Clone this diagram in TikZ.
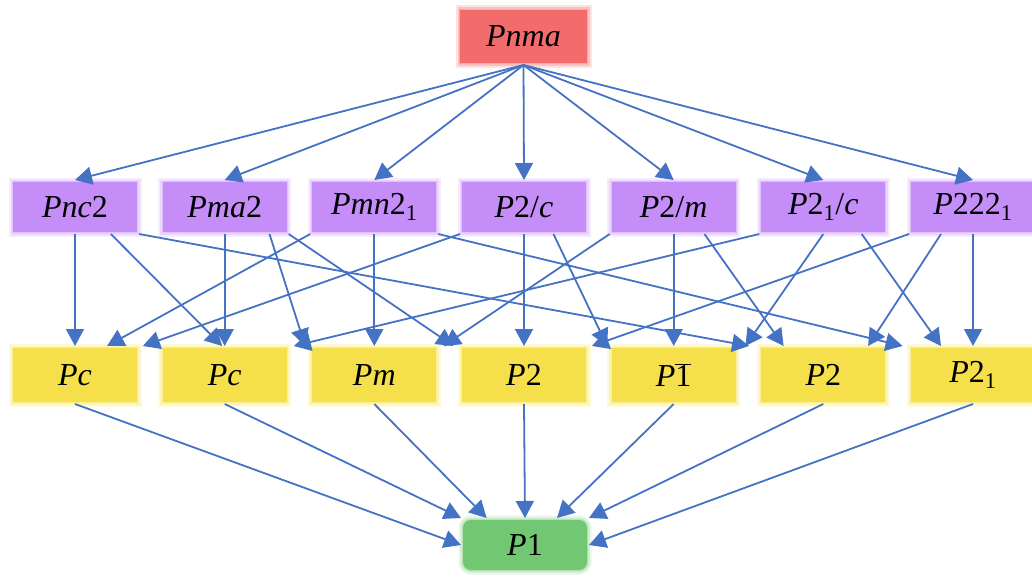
\documentclass[tikz,border=0pt]{standalone}
\usepackage{fontspec}
\setmainfont{Liberation Serif}
\usetikzlibrary{arrows.meta,calc}
\definecolor{arrcol}{HTML}{4472C4}
\definecolor{redfill}{HTML}{F26C6C}
\definecolor{redglow}{HTML}{F7A0A0}
\definecolor{purfill}{HTML}{C48DF7}
\definecolor{purglow}{HTML}{DDBDFA}
\definecolor{yelfill}{HTML}{F5E04B}
\definecolor{yelglow}{HTML}{FAEC90}
\definecolor{grnfill}{HTML}{72C772}
\definecolor{grnglow}{HTML}{B2E0B2}
\newcommand\edgeBT[4]{\draw[arr] ($(#1.south west)!#2!(#1.south east)$) -- ($(#3.north west)!#4!(#3.north east)$);}
\begin{document}
\begin{tikzpicture}[x=1pt,y=1pt,
  box/.style={minimum width=124pt, minimum height=50pt, inner sep=0pt, outer sep=2pt,
     font=\fontsize{32}{38}\selectfont},
  glowing/.style={preaction={draw=#1, line width=9pt, draw opacity=0.3},
     preaction={draw=#1, line width=5pt, draw opacity=0.5},
     preaction={draw=#1, line width=2pt, draw opacity=0.8}},
  redbox/.style={box, fill=redfill, glowing=redglow, minimum width=127pt, minimum height=53pt},
  purbox/.style={box, fill=purfill, glowing=purglow},
  yelbox/.style={box, fill=yelfill, glowing=yelglow, minimum height=54pt},
  grnbox/.style={box, fill=grnfill, glowing=grnglow, rounded corners=8pt},
  arr/.style={draw=arrcol, line width=1.8pt, -{Triangle[length=17pt,width=18pt]}, shorten >=0pt}
]
\useasboundingbox (0,0) rectangle (1032,-578);
% top
\node[redbox] (pnma) at (523.5,-36.5) {\textit{Pnma}};
% row 2
\node[purbox] (pnc)  at (75,-207)    {\textit{Pnc}2};
\node[purbox] (pma)  at (224.7,-207) {\textit{Pma}2};
\node[purbox] (pmn)  at (374.3,-207) {\textit{Pmn}2\textsubscript{1}};
\node[purbox] (ptc)  at (524,-207)   {\textit{P}2/\textit{c}};
\node[purbox] (ptm)  at (673.7,-207) {\textit{P}2/\textit{m}};
\node[purbox] (ptoc) at (823.3,-207) {\textit{P}2\textsubscript{1}/\textit{c}};
\node[purbox] (pttt) at (973,-207)   {\textit{P}222\textsubscript{1}};
% row 3
\node[yelbox] (pca)  at (75,-375)    {\textit{Pc}};
\node[yelbox] (pcb)  at (224.7,-375) {\textit{Pc}};
\node[yelbox] (pm)   at (374.3,-375) {\textit{Pm}};
\node[yelbox] (pta)  at (524,-375)   {\textit{P}2};
\node[yelbox] (pbar) at (673.7,-375) {\textit{P}$\overline{\mbox{1}}$};
\node[yelbox] (ptb)  at (823.3,-375) {\textit{P}2};
\node[yelbox] (pto)  at (973,-375)   {\textit{P}2\textsubscript{1}};
% bottom
\node[grnbox] (pone) at (525,-545) {\textit{P}1};
% Pnma -> row 2
\foreach \t in {pnc,pma,pmn,ptc,ptm,ptoc,pttt}
  \draw[arr] (pnma.south) -- (\t.north);
% row 2 -> row 3
\edgeBT{pnc}{0.5}{pca}{0.5}
\edgeBT{pnc}{0.78}{pcb}{0.48}
\edgeBT{pnc}{1.0}{ptb}{-0.08}
\edgeBT{pma}{0.5}{pcb}{0.5}
\edgeBT{pma}{0.85}{pm}{-0.04}
\edgeBT{pma}{1.0}{pta}{-0.05}
\edgeBT{pmn}{0.0}{pca}{0.75}
\edgeBT{pmn}{0.5}{pm}{0.5}
\edgeBT{pmn}{1.0}{pto}{-0.05}
\edgeBT{ptc}{0.0}{pca}{1.03}
\edgeBT{ptc}{0.5}{pta}{0.5}
\edgeBT{ptc}{0.73}{pbar}{-0.02}
\edgeBT{ptm}{0.0}{pm}{1.04}
\edgeBT{ptm}{0.5}{pbar}{0.5}
\edgeBT{ptm}{0.74}{ptb}{0.19}
\edgeBT{ptoc}{0.0}{pcb}{1.04}
\edgeBT{ptoc}{0.5}{pbar}{1.06}
\edgeBT{ptoc}{0.8}{pto}{0.25}
\edgeBT{pttt}{0.0}{pta}{1.03}
\edgeBT{pttt}{0.25}{ptb}{0.85}
\edgeBT{pttt}{0.5}{pto}{0.5}
% row 3 -> P1
\draw[arr] (pca.south) -- (pone.west);
\draw[arr] (pcb.south) -- (pone.north west);
\draw[arr] (pm.south) -- ($(pone.north west)!0.2!(pone.north east)$);
\draw[arr] (pta.south) -- (pone.north);
\draw[arr] (pbar.south) -- ($(pone.north west)!0.75!(pone.north east)$);
\draw[arr] (ptb.south) -- (pone.north east);
\draw[arr] (pto.south) -- (pone.east);
\end{tikzpicture}
\end{document}
